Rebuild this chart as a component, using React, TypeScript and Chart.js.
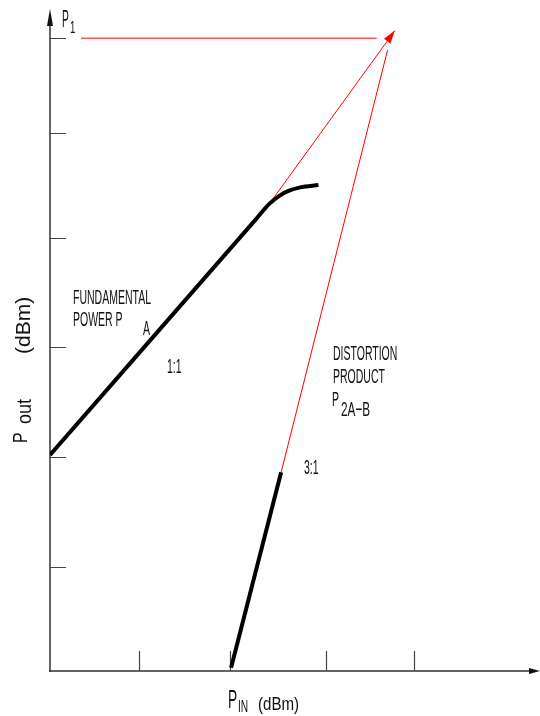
import { useEffect, useRef } from 'react';
import { Chart, registerables } from 'chart.js';

Chart.register(...registerables);

// ---- data (axis units: 1 unit per tick step) ----
const xTicks = [0.98, 1.98, 3.03, 4.0];
const yTicks = [0.96, 1.98, 3.0, 4.01, 4.98, 5.86];
const xMax = 5.385;
const yMax = 6.13;

const fundamentalCurve = [
  { x: 0, y: 2.0 },
  { x: 2.25, y: 4.17 },
  { x: 2.41, y: 4.325 },
  { x: 2.52, y: 4.4 },
  { x: 2.62, y: 4.445 },
  { x: 2.75, y: 4.478 },
  { x: 2.95, y: 4.5 },
];
const fundamentalExtrapolation = [
  { x: 2.41, y: 4.325 },
  { x: 3.79, y: 5.93 },
];
const p1Level = [
  { x: 0.34, y: 5.86 },
  { x: 3.59, y: 5.86 },
];
const distortionLine = [
  { x: 1.99, y: 0.03 },
  { x: 2.54, y: 1.84 },
];
const distortionExtrapolation = [
  { x: 2.54, y: 1.84 },
  { x: 3.71, y: 5.75 },
];

// ---- text labels (pixel layout) ----
type Label = { t: string; x: number; y: number; size: number; sx: number; rot?: boolean };
const FONT = '"Liberation Sans", Arial, sans-serif';
const labels: Label[] = [
  { t: 'P', x: 62, y: 27, size: 23, sx: 0.45 },
  { t: '1', x: 70, y: 33, size: 16, sx: 0.6 },
  { t: 'FUNDAMENTAL', x: 73, y: 304, size: 21, sx: 0.5 },
  { t: 'POWER P', x: 73, y: 326, size: 21, sx: 0.5 },
  { t: 'A', x: 143, y: 335, size: 21, sx: 0.5 },
  { t: '1:1', x: 167, y: 373, size: 21, sx: 0.5 },
  { t: 'DISTORTION', x: 333, y: 360, size: 21, sx: 0.5 },
  { t: 'PRODUCT', x: 333, y: 383, size: 21, sx: 0.5 },
  { t: 'P', x: 332, y: 406, size: 21, sx: 0.5 },
  { t: '2A\u2212B', x: 341, y: 416, size: 21, sx: 0.56 },
  { t: '3:1', x: 304, y: 474, size: 21, sx: 0.5 },
  { t: 'P', x: 228, y: 708, size: 25, sx: 0.55 },
  { t: 'IN', x: 238, y: 712, size: 17, sx: 0.6 },
  { t: '(dBm)', x: 258, y: 710, size: 18, sx: 0.84 },
  { t: 'P', x: 27, y: 443, size: 21, sx: 0.75, rot: true },
  { t: 'out', x: 31, y: 424, size: 20, sx: 0.9, rot: true },
  { t: '(dBm)', x: 30, y: 354, size: 21, sx: 1.0, rot: true },
];

function arrowHead(ctx: CanvasRenderingContext2D, x0: number, y0: number, x1: number, y1: number, len: number, half: number, color: string) {
  const a = Math.atan2(y1 - y0, x1 - x0);
  ctx.save();
  ctx.translate(x1, y1);
  ctx.rotate(a);
  ctx.beginPath();
  ctx.moveTo(0, 0);
  ctx.lineTo(-len, -half);
  ctx.lineTo(-len, half);
  ctx.closePath();
  ctx.fillStyle = color;
  ctx.fill();
  ctx.restore();
}

const decor = {
  id: 'decor',
  beforeDatasetsDraw(chart: any) {
    const ctx: CanvasRenderingContext2D = chart.ctx;
    const xs = chart.scales.x;
    const ys = chart.scales.y;
    const x0 = xs.getPixelForValue(0);
    const y0 = ys.getPixelForValue(0);
    const xEnd = xs.getPixelForValue(xMax);
    const yEnd = ys.getPixelForValue(yMax);
    ctx.save();
    ctx.strokeStyle = '#333';
    ctx.lineWidth = 1.5;
    ctx.beginPath();
    ctx.moveTo(x0, y0 + 1);
    ctx.lineTo(x0, yEnd + 14);
    ctx.moveTo(x0 - 1, y0);
    ctx.lineTo(xEnd - 10, y0);
    ctx.stroke();
    arrowHead(ctx, x0, y0, x0, yEnd, 17, 3, '#111');
    arrowHead(ctx, x0, y0, xEnd, y0, 11, 3, '#111');
    ctx.lineWidth = 1.2;
    ctx.strokeStyle = '#444';
    ctx.beginPath();
    for (const v of yTicks) {
      const py = Math.round(ys.getPixelForValue(v)) + 0.5;
      ctx.moveTo(x0, py);
      ctx.lineTo(x0 + 16, py);
    }
    for (const v of xTicks) {
      const px = Math.round(xs.getPixelForValue(v)) + 0.5;
      ctx.moveTo(px, y0);
      ctx.lineTo(px, y0 - 20);
    }
    ctx.stroke();
    ctx.restore();
  },
  afterDatasetsDraw(chart: any) {
    const ctx: CanvasRenderingContext2D = chart.ctx;
    const xs = chart.scales.x;
    const ys = chart.scales.y;
    const a = fundamentalExtrapolation[0];
    const b = fundamentalExtrapolation[1];
    arrowHead(ctx, xs.getPixelForValue(a.x), ys.getPixelForValue(a.y), xs.getPixelForValue(b.x), ys.getPixelForValue(b.y), 13, 4, '#ff0000');

    ctx.save();
    ctx.fillStyle = '#111';
    ctx.textBaseline = 'alphabetic';
    ctx.textAlign = 'left';
    for (const l of labels) {
      ctx.save();
      ctx.font = `${l.size}px ${FONT}`;
      ctx.translate(l.x, l.y);
      if (l.rot) ctx.rotate(-Math.PI / 2);
      ctx.scale(l.sx, 1);
      ctx.fillText(l.t, 0, 0);
      ctx.restore();
    }
    ctx.restore();
  },
};

export default function App() {
  const ref = useRef<HTMLCanvasElement | null>(null);
  useEffect(() => {
    if (!ref.current) return;
    const line = (data: any[], color: string, width: number, order: number, extra: any = {}) => ({
      data,
      showLine: true,
      borderColor: color,
      backgroundColor: color,
      borderWidth: width,
      pointRadius: 0,
      fill: false,
      order,
      ...extra,
    });
    const chart = new Chart(ref.current, {
      type: 'scatter',
      data: {
        datasets: [
          line(p1Level, '#ff0000', 1, 2),
          line(fundamentalExtrapolation, '#ff0000', 1, 2),
          line(distortionExtrapolation, '#ff0000', 1, 2),
          line(fundamentalCurve, '#000000', 4, 0, { cubicInterpolationMode: 'monotone' }),
          line(distortionLine, '#000000', 4, 0),
        ],
      } as any,
      options: {
        responsive: false,
        animation: false,
        events: [],
        layout: { padding: { left: 50, right: 0, top: 9, bottom: 45 } },
        scales: {
          x: { type: 'linear', min: 0, max: xMax, display: false },
          y: { type: 'linear', min: 0, max: yMax, display: false },
        },
        plugins: { legend: { display: false }, tooltip: { enabled: false }, title: { display: false } },
      } as any,
      plugins: [decor],
    });
    return () => chart.destroy();
  }, []);
  return (
    <div style={{ position: 'fixed', left: 0, top: 0, width: 540, height: 716, background: '#fff' }}>
      <canvas ref={ref} width={540} height={716} style={{ display: 'block', width: 540, height: 716 }} />
    </div>
  );
}
